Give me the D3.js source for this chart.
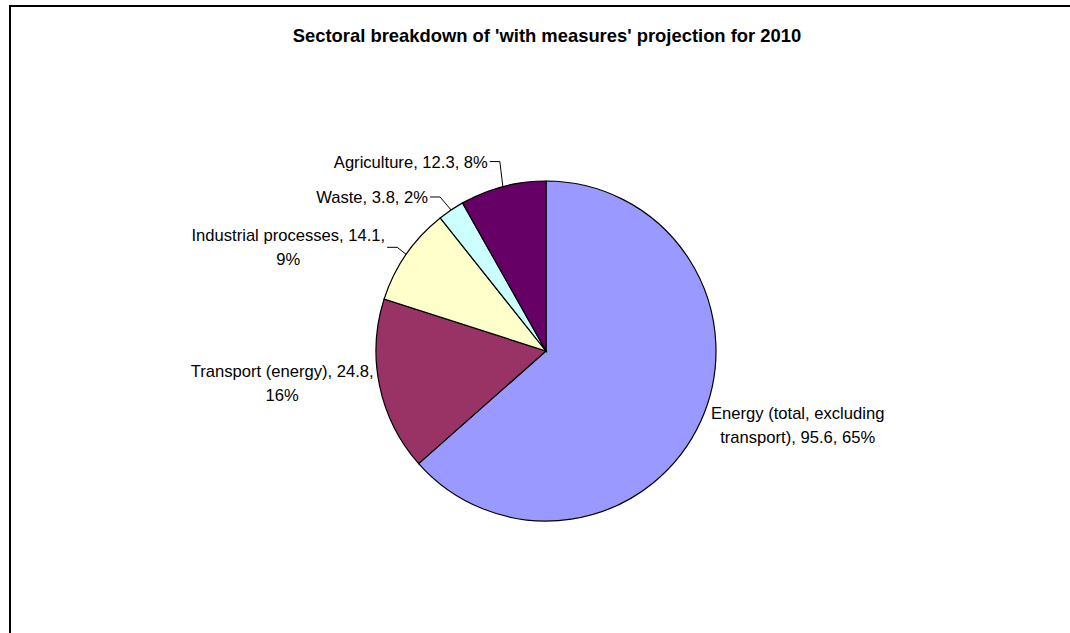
<!DOCTYPE html>
<html>
<head>
<meta charset="utf-8">
<script src="https://cdn.jsdelivr.net/npm/d3@7"></script>
<style>
  html, body { margin: 0; padding: 0; overflow: hidden; background: #fff; }
  svg { display: block; }
  text { font-family: "Liberation Sans", Arial, sans-serif; }
</style>
</head>
<body>
<script>
const sectors = ["Energy (total, excluding transport)", "Transport (energy)", "Industrial processes", "Waste", "Agriculture"];
const values = [95.6, 24.8, 14.1, 3.8, 12.3];
const percentLabels = ["65%", "16%", "9%", "2%", "8%"];
// label text split into lines as printed
const labelLines = [
  ["Energy (total, excluding", "transport), 95.6, 65%"],
  ["Transport (energy), 24.8,", "16%"],
  ["Industrial processes, 14.1,", "9%"],
  ["Waste, 3.8, 2%"],
  ["Agriculture, 12.3, 8%"]
];
const colors = ["#9999FF", "#993366", "#FFFFCC", "#CCFFFF", "#660066"];

const w = 1070;
const h = 633;
const cx = 546;
const cy = 351;
const r = 170;

// label placement relative to slice edge point (layout only)
const labelLayout = [
  { dx: 10, dy: 4, side: "right", leader: false },
  { dx: -6, dy: -3, side: "left", leader: false },
  { dx: -9, dy: -7, side: "left", leader: true },
  { dx: -11, dy: -13, side: "left", leader: true },
  { dx: -3, dy: -25, side: "left", leader: true }
];

const svg = d3.select("body")
  .append("svg")
  .attr("width", w)
  .attr("height", h);

// chart frame, only top and left edges fall inside the page
svg.append("path")
  .attr("d", "M10," + (h + 20) + "V6H" + (w + 20))
  .attr("fill", "none")
  .attr("stroke", "#000")
  .attr("stroke-width", 2);

svg.append("text")
  .attr("x", 547)
  .attr("y", 42)
  .attr("text-anchor", "middle")
  .attr("font-weight", "bold")
  .attr("font-size", 18.4)
  .attr("fill", "#000")
  .text("Sectoral breakdown of 'with measures' projection for 2010");

const pie = d3.pie().sort(null).value(d => d);
const arcs = pie(values);
const arc = d3.arc().innerRadius(0).outerRadius(r);

const g = svg.append("g")
  .attr("transform", "translate(" + cx + "," + cy + ")");

g.selectAll("path")
  .data(arcs)
  .enter()
  .append("path")
  .attr("d", arc)
  .attr("fill", (d, i) => colors[i])
  .attr("stroke", "#000")
  .attr("stroke-width", 1.2);

arcs.forEach((a, i) => {
  const mid = (a.startAngle + a.endAngle) / 2;
  const px = r * Math.sin(mid);
  const py = -r * Math.cos(mid);
  const lay = labelLayout[i];
  const ex = px + lay.dx;
  const ey = py + lay.dy;
  const lines = labelLines[i];
  const lineH = 24;

  let textX = ex;
  if (lay.leader) {
    const tail = ex - 10;
    g.append("polyline")
      .attr("points", [[px, py], [ex, ey], [tail, ey]].map(p => p.join(",")).join(" "))
      .attr("fill", "none")
      .attr("stroke", "#000")
      .attr("stroke-width", 1);
    textX = tail - 2;
  }

  const block = g.append("text")
    .attr("font-size", 16.6)
    .attr("fill", "#000");

  const spans = lines.map((line, j) => block.append("tspan")
    .attr("y", ey + 6 - (lines.length - 1) * lineH / 2 + j * lineH)
    .text(line));

  const widest = d3.max(spans, s => s.node().getComputedTextLength());
  const centerX = lay.side === "right" ? textX + widest / 2 : textX - widest / 2;
  spans.forEach(s => s.attr("x", centerX).attr("text-anchor", "middle"));
});
</script>
</body>
</html>
